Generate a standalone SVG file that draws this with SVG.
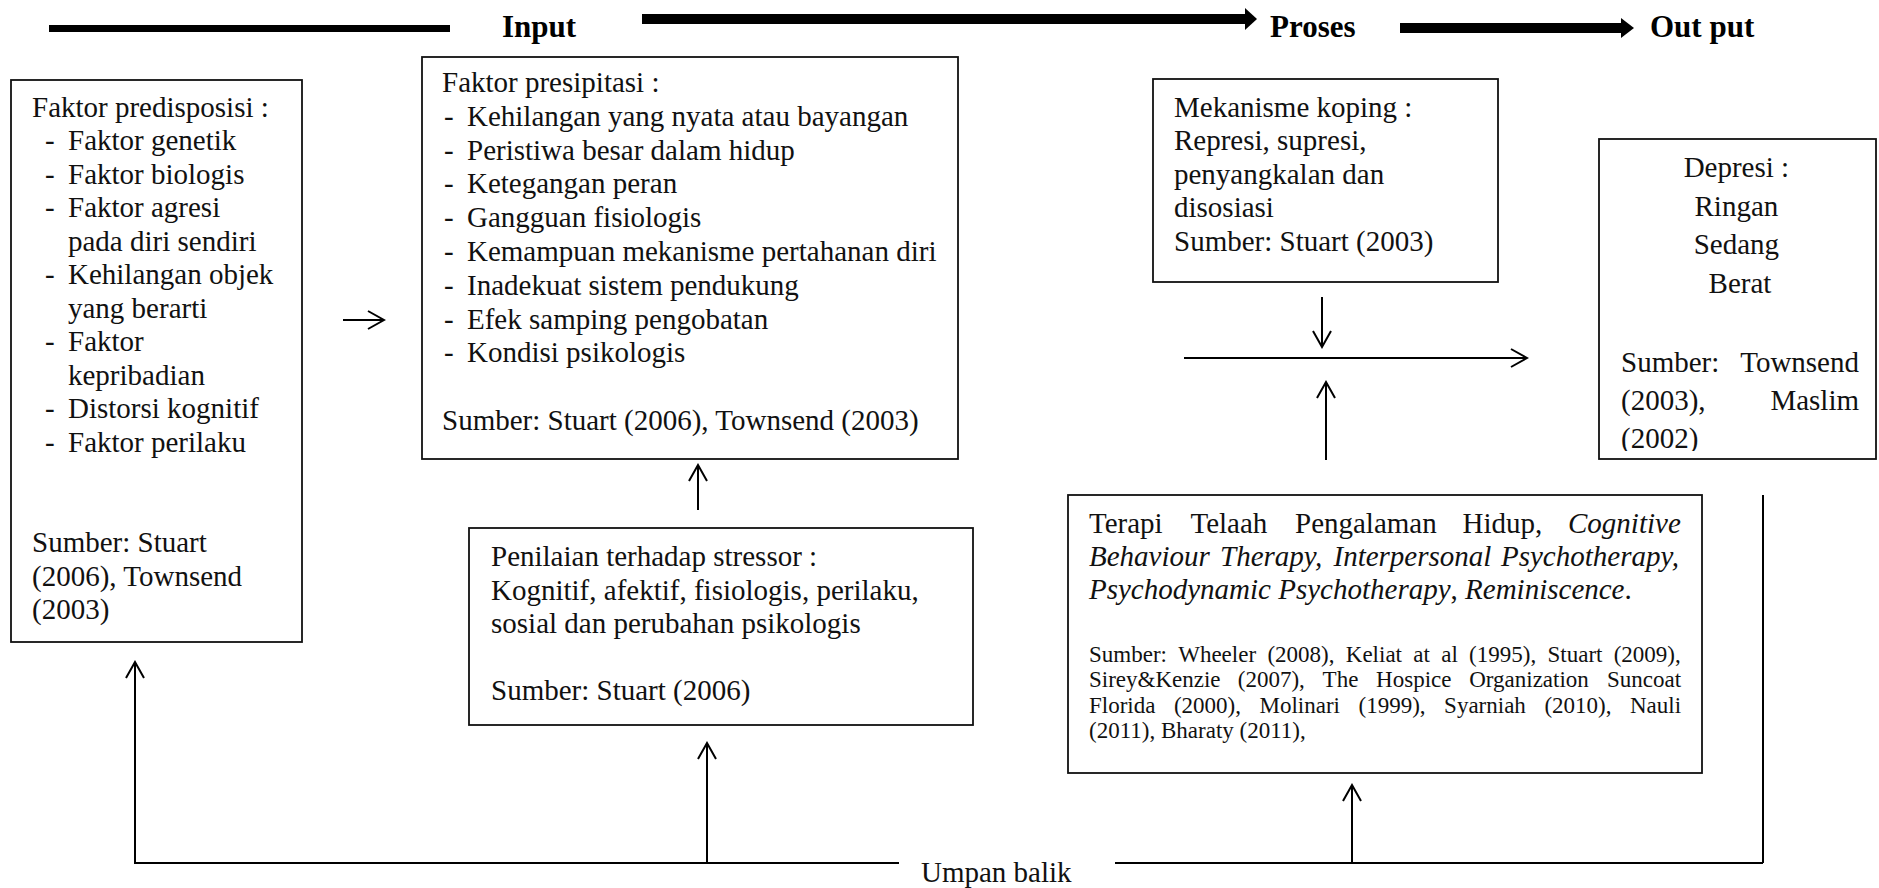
<svg xmlns="http://www.w3.org/2000/svg" width="1879" height="888" viewBox="0 0 1879 888">
<style>
  .t { font-family: "Liberation Serif", "Times New Roman", serif; font-size: 29px; fill: #111; }
  .s { font-family: "Liberation Serif", "Times New Roman", serif; font-size: 23px; fill: #111; }
  .h { font-family: "Liberation Serif", "Times New Roman", serif; font-size: 31px; font-weight: bold; fill: #000; }
  .i { font-style: italic; }
  .box { fill: none; stroke: #111; stroke-width: 1.8; }
  .ln { fill: none; stroke: #000; stroke-width: 2; }
</style>
<defs>
  <marker id="open" viewBox="-18 -11 20 22" refX="0" refY="0" markerWidth="20" markerHeight="22" markerUnits="userSpaceOnUse" orient="auto">
    <path d="M-16,-9 L0,0 L-16,9" fill="none" stroke="#000" stroke-width="2"/>
  </marker>
  <clipPath id="clipDep"><rect x="1599" y="138" width="278" height="313"/></clipPath>
</defs>

<g id="header">
  <rect x="49" y="25" width="401" height="7" fill="#000"/>
  <text class="h" x="502" y="37">Input</text>
  <rect x="642" y="14" width="604" height="10" fill="#000"/>
  <polygon points="1245,8 1257,19 1245,30" fill="#000"/>
  <text class="h" x="1270" y="37">Proses</text>
  <rect x="1400" y="23" width="222" height="10" fill="#000"/>
  <polygon points="1621,18 1634,28 1621,38" fill="#000"/>
  <text class="h" x="1650" y="37">Out put</text>
</g>

<g id="predisposisi">
  <rect class="box" x="11" y="80" width="291" height="562"/>
  <text class="t">
    <tspan x="32" y="116.5">Faktor predisposisi :</tspan>
    <tspan x="45" y="150">-</tspan><tspan x="68" y="150">Faktor genetik</tspan>
    <tspan x="45" y="183.5">-</tspan><tspan x="68" y="183.5">Faktor biologis</tspan>
    <tspan x="45" y="217">-</tspan><tspan x="68" y="217">Faktor agresi</tspan>
    <tspan x="68" y="250.5">pada diri sendiri</tspan>
    <tspan x="45" y="284">-</tspan><tspan x="68" y="284">Kehilangan objek</tspan>
    <tspan x="68" y="317.5">yang berarti</tspan>
    <tspan x="45" y="351">-</tspan><tspan x="68" y="351">Faktor</tspan>
    <tspan x="68" y="384.5">kepribadian</tspan>
    <tspan x="45" y="418">-</tspan><tspan x="68" y="418">Distorsi kognitif</tspan>
    <tspan x="45" y="451.5">-</tspan><tspan x="68" y="451.5">Faktor perilaku</tspan>
    <tspan x="32" y="552">Sumber: Stuart</tspan>
    <tspan x="32" y="585.5">(2006), Townsend</tspan>
    <tspan x="32" y="619">(2003)</tspan>
  </text>
</g>

<g id="presipitasi">
  <rect class="box" x="422" y="57" width="536" height="402"/>
  <text class="t">
    <tspan x="442" y="92">Faktor presipitasi :</tspan>
    <tspan x="444" y="125.8">-</tspan><tspan x="467" y="125.8">Kehilangan yang nyata atau bayangan</tspan>
    <tspan x="444" y="159.6">-</tspan><tspan x="467" y="159.6">Peristiwa besar dalam hidup</tspan>
    <tspan x="444" y="193.4">-</tspan><tspan x="467" y="193.4">Ketegangan peran</tspan>
    <tspan x="444" y="227.2">-</tspan><tspan x="467" y="227.2">Gangguan fisiologis</tspan>
    <tspan x="444" y="261">-</tspan><tspan x="467" y="261">Kemampuan mekanisme pertahanan diri</tspan>
    <tspan x="444" y="294.8">-</tspan><tspan x="467" y="294.8">Inadekuat sistem pendukung</tspan>
    <tspan x="444" y="328.6">-</tspan><tspan x="467" y="328.6">Efek samping pengobatan</tspan>
    <tspan x="444" y="362.4">-</tspan><tspan x="467" y="362.4">Kondisi psikologis</tspan>
    <tspan x="442" y="430">Sumber: Stuart (2006), Townsend (2003)</tspan>
  </text>
</g>

<g id="penilaian">
  <rect class="box" x="469" y="528" width="504" height="197"/>
  <text class="t">
    <tspan x="491" y="566">Penilaian terhadap stressor :</tspan>
    <tspan x="491" y="599.5">Kognitif, afektif, fisiologis, perilaku,</tspan>
    <tspan x="491" y="633">sosial dan perubahan psikologis</tspan>
    <tspan x="491" y="700">Sumber: Stuart (2006)</tspan>
  </text>
</g>

<g id="mekanisme">
  <rect class="box" x="1153" y="79" width="345" height="203"/>
  <text class="t">
    <tspan x="1174" y="117">Mekanisme koping :</tspan>
    <tspan x="1174" y="150.4">Represi, supresi,</tspan>
    <tspan x="1174" y="183.8">penyangkalan dan</tspan>
    <tspan x="1174" y="217.2">disosiasi</tspan>
    <tspan x="1174" y="250.6">Sumber: Stuart (2003)</tspan>
  </text>
</g>

<g id="depresi">
  <rect class="box" x="1599" y="139" width="277" height="320"/>
  <g clip-path="url(#clipDep)">
    <text class="t" text-anchor="middle">
      <tspan x="1740" y="177">Depresi :</tspan>
      <tspan x="1740" y="215.5">Ringan</tspan>
      <tspan x="1740" y="254">Sedang</tspan>
      <tspan x="1740" y="292.5">Berat</tspan>
    </text>
    <text class="t" x="1621" y="372">Sumber:</text>
    <text class="t" x="1859" y="372" text-anchor="end">Townsend</text>
    <text class="t" x="1621" y="410">(2003),</text>
    <text class="t" x="1859" y="410" text-anchor="end">Maslim</text>
    <text class="t" x="1621" y="448">(2002)</text>
  </g>
</g>

<g id="terapi">
  <rect class="box" x="1068" y="495" width="634" height="278"/>
  <text class="t">
    <tspan x="1089" y="533">Terapi</tspan>
    <tspan x="1190.5" y="533">Telaah</tspan>
    <tspan x="1295" y="533">Pengalaman</tspan>
    <tspan x="1462.5" y="533">Hidup,</tspan>
    <tspan x="1568" y="533" class="i">Cognitive</tspan>
    <tspan x="1089" y="566" class="i">Behaviour</tspan>
    <tspan x="1220" y="566" class="i">Therapy,</tspan>
    <tspan x="1333.5" y="566" class="i">Interpersonal</tspan>
    <tspan x="1501" y="566" class="i">Psychotherapy,</tspan>
    <tspan x="1089" y="599" class="i">Psychodynamic Psychotherapy</tspan><tspan>, </tspan><tspan class="i">Reminiscence</tspan><tspan>.</tspan>
  </text>
  <text class="s">
    <tspan x="1089" y="662">Sumber:</tspan>
    <tspan x="1178.2" y="662">Wheeler</tspan>
    <tspan x="1267.4" y="662">(2008),</tspan>
    <tspan x="1345.8" y="662">Keliat</tspan>
    <tspan x="1413.3" y="662">at</tspan>
    <tspan x="1441.2" y="662">al</tspan>
    <tspan x="1469.1" y="662">(1995),</tspan>
    <tspan x="1547.5" y="662">Stuart</tspan>
    <tspan x="1613.7" y="662">(2009),</tspan>
  </text>
  <text class="s">
    <tspan x="1089" y="687">Sirey&amp;Kenzie</tspan>
    <tspan x="1237.8" y="687">(2007),</tspan>
    <tspan x="1322.6" y="687">The</tspan>
    <tspan x="1376.1" y="687">Hospice</tspan>
    <tspan x="1469.2" y="687">Organization</tspan>
    <tspan x="1607" y="687">Suncoat</tspan>
  </text>
  <text class="s">
    <tspan x="1089" y="713">Florida</tspan>
    <tspan x="1173.9" y="713">(2000),</tspan>
    <tspan x="1259.5" y="713">Molinari</tspan>
    <tspan x="1358.5" y="713">(1999),</tspan>
    <tspan x="1444.1" y="713">Syarniah</tspan>
    <tspan x="1544.4" y="713">(2010),</tspan>
    <tspan x="1630" y="713">Nauli</tspan>
  </text>
  <text class="s" x="1089" y="738">(2011), Bharaty (2011),</text>
</g>

<g id="umpan-balik">
  <text class="t" x="921" y="882">Umpan balik</text>
</g>

<g id="connectors">
  <line class="ln" x1="343" y1="320" x2="384" y2="320" marker-end="url(#open)"/>
  <line class="ln" x1="698" y1="510" x2="698" y2="465" marker-end="url(#open)"/>
  <line class="ln" x1="1322" y1="297" x2="1322" y2="347" marker-end="url(#open)"/>
  <line class="ln" x1="1184" y1="358" x2="1527" y2="358" marker-end="url(#open)"/>
  <line class="ln" x1="1326" y1="460" x2="1326" y2="382" marker-end="url(#open)"/>
  <line class="ln" x1="135" y1="863" x2="899" y2="863"/>
  <line class="ln" x1="1115" y1="863" x2="1763" y2="863"/>
  <line class="ln" x1="1763" y1="863" x2="1763" y2="495"/>
  <line class="ln" x1="135" y1="864" x2="135" y2="662" marker-end="url(#open)"/>
  <line class="ln" x1="707" y1="863" x2="707" y2="743" marker-end="url(#open)"/>
  <line class="ln" x1="1352" y1="863" x2="1352" y2="785" marker-end="url(#open)"/>
</g>
</svg>
